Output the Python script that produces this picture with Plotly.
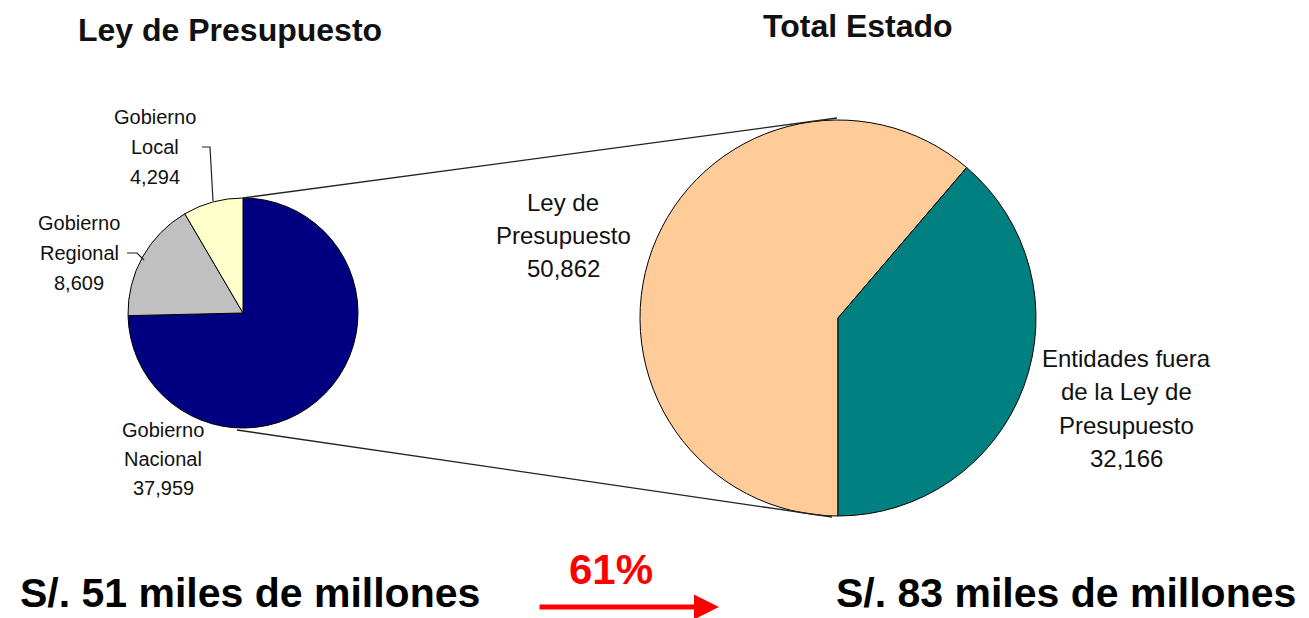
import plotly.graph_objects as go

# data
ley_labels = ["Gobierno Nacional", "Gobierno Regional", "Gobierno Local"]
ley_values = [37959, 8609, 4294]
ley_colors = ["#000080", "#C0C0C0", "#FFFFCC"]

total_labels = ["Ley de Presupuesto", "Entidades fuera de la Ley de Presupuesto"]
total_values = [50862, 32166]
total_colors = ["#FFCC99", "#008080"]

W, H = 1309, 618


def px(x, y):
    # pixel -> paper coords
    return x / W, 1 - y / H


fig = go.Figure()

fig.add_trace(go.Pie(
    labels=ley_labels, values=ley_values, sort=False, direction="clockwise",
    rotation=0, textinfo="none", marker=dict(colors=ley_colors, line=dict(color="black", width=1)),
    domain=dict(x=[128 / W, 358 / W], y=[1 - 428 / H, 1 - 198 / H]),
    showlegend=False, hoverinfo="label+value",
))
fig.add_trace(go.Pie(
    labels=total_labels, values=total_values, sort=False, direction="clockwise",
    rotation=180, textinfo="none", marker=dict(colors=total_colors, line=dict(color="black", width=1)),
    domain=dict(x=[640 / W, 1036 / W], y=[1 - 516 / H, 1 - 120 / H]),
    showlegend=False, hoverinfo="label+value",
))

annotations = []


def text(x, y, s, size, bold=False, color="#111111", yanchor="middle"):
    ax, ay = px(x, y)
    annotations.append(dict(
        x=ax, y=ay, xref="paper", yref="paper", text=f"<b>{s}</b>" if bold else s,
        showarrow=False, xanchor="center", yanchor=yanchor,
        font=dict(family="Arial, Liberation Sans", size=size, color=color),
    ))


# slice labels, one annotation per line (label words then the value)
def slice_label(lines, value, x, y0, step, size):
    for i, ln in enumerate(lines + [f"{value:,}"]):
        text(x, y0 + i * step, ln, size)


slice_label(["Gobierno", "Nacional"], ley_values[0], 163, 430, 29, 20)
slice_label(["Gobierno", "Regional"], ley_values[1], 79, 223, 30, 20)
slice_label(["Gobierno", "Local"], ley_values[2], 155, 117, 30, 20)
slice_label(["Ley de", "Presupuesto"], total_values[0], 563, 202, 33, 24)
slice_label(["Entidades fuera", "de la Ley de", "Presupuesto"], total_values[1], 1126, 358, 33.5, 24)

# titles and bottom text
text(230, 30, "Ley de Presupuesto", 32, bold=True)
text(858, 26, "Total Estado", 32, bold=True)
text(250, 618, "S/. 51 miles de millones", 41, bold=True, color="black", yanchor="bottom")
text(1066, 618, "S/. 83 miles de millones", 41, bold=True, color="black", yanchor="bottom")
text(611, 569, "61%", 42, bold=True, color="#FF0000")

# growth arrow
hx, hy = px(719, 607)
annotations.append(dict(
    x=hx, y=hy, xref="paper", yref="paper", text="", showarrow=True,
    ax=-181, ay=0, arrowhead=2, arrowsize=1, arrowwidth=5, arrowcolor="#FF0000",
))
fig.update_layout(annotations=annotations)

# connector lines between the pies and leader lines
shapes = []


def seg(pts, width=1.3):
    path = "M " + " L ".join(f"{px(x, y)[0]},{px(x, y)[1]}" for x, y in pts)
    shapes.append(dict(type="path", path=path, xref="paper", yref="paper",
                       line=dict(color="#222222", width=width)))


seg([(243, 198), (837, 118)])
seg([(237, 430), (832, 517)])
seg([(202, 147), (210, 147), (213, 201)], 1.2)
seg([(127, 253), (137, 253), (144, 260)], 1.2)
fig.update_layout(shapes=shapes)

fig.update_layout(
    width=W, height=H, margin=dict(l=0, r=0, t=0, b=0),
    paper_bgcolor="white", plot_bgcolor="white",
)

# drop the browser's default body margin so the figure fills the window
fig.write_html("out.html", config={"displayModeBar": False},
               post_script="document.body.style.margin='0';document.body.style.overflow='hidden';")
